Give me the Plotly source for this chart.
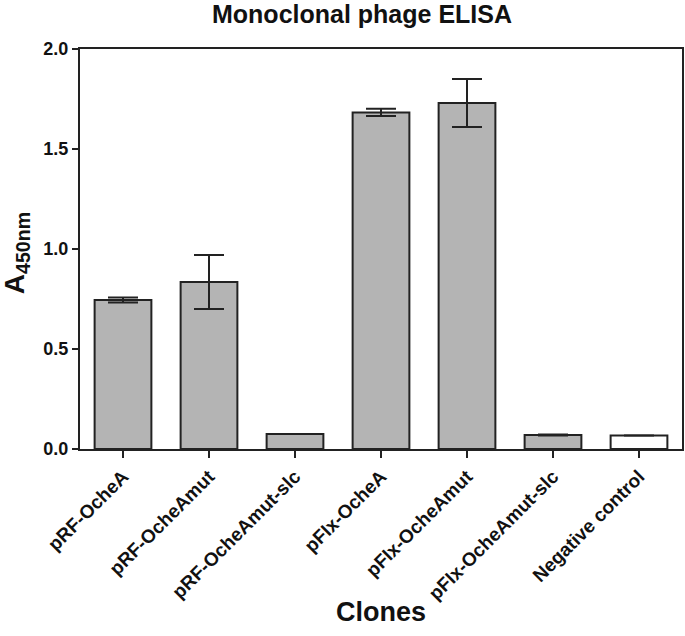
"""Monoclonal phage ELISA : A450nm par clone (moyenne ± écart)."""

import plotly.graph_objects as go

# Données
clones = [
    "pRF-OcheA", "pRF-OcheAmut", "pRF-OcheAmut-slc",
    "pFIx-OcheA", "pFIx-OcheAmut", "pFIx-OcheAmut-slc",
    "Negative control",
]
a450 = [0.745, 0.835, 0.075, 1.683, 1.730, 0.070, 0.068]
err = [0.012, 0.135, 0.0, 0.018, 0.120, 0.003, 0.0]
bar_colors = ["#b4b4b4"] * 6 + ["#ffffff"]

ink = "#222222"
font = "Liberation Sans, Arial, sans-serif"

fig = go.Figure()

fig.add_trace(go.Bar(
    x=clones, y=a450,
    marker=dict(color=bar_colors, line=dict(color=ink, width=2)),
    width=0.66,
    error_y=dict(type="data", array=err, visible=True,
                 color=ink, thickness=2, width=15),
    showlegend=False,
))

fig.update_layout(
    width=685, height=636,
    margin=dict(l=80, r=3, t=49, b=187, autoexpand=False),
    plot_bgcolor="white", paper_bgcolor="white",
    font=dict(family=font, color="#111111"),
    xaxis=dict(
        range=[-0.5, 6.5],
        showline=True, linecolor=ink, linewidth=2, mirror=True,
        ticks="outside", ticklen=7, tickwidth=2, tickcolor=ink,
        tickangle=-45,
        tickfont=dict(size=19, weight="bold", family=font),
        showgrid=False,
    ),
    yaxis=dict(
        range=[0, 2.0], dtick=0.5, tickformat=".1f",
        showline=True, linecolor=ink, linewidth=2, mirror=True,
        ticks="outside", ticklen=6, tickwidth=2, tickcolor=ink,
        tickfont=dict(size=18, weight="bold", family=font),
        showgrid=False, zeroline=False,
    ),
    annotations=[
        dict(text="<b>Monoclonal phage ELISA</b>", x=0.468, y=1.0875,
             xref="paper", yref="paper", xanchor="center", yanchor="middle",
             showarrow=False, font=dict(size=25)),
        dict(text="<b>Clones</b>", x=0.5, y=-0.4075,
             xref="paper", yref="paper", xanchor="center", yanchor="middle",
             showarrow=False, font=dict(size=27)),
        dict(text="<b>A<sub>450nm</sub></b>", x=-0.106, y=0.49,
             xref="paper", yref="paper", xanchor="center", yanchor="middle",
             showarrow=False, textangle=-90, font=dict(size=28)),
    ],
)

# marge par défaut du <body> (8 px) supprimée pour garder la figure en place
fig.write_html("out.html", config={"displayModeBar": False},
               post_script="document.body.style.margin='0px';")
